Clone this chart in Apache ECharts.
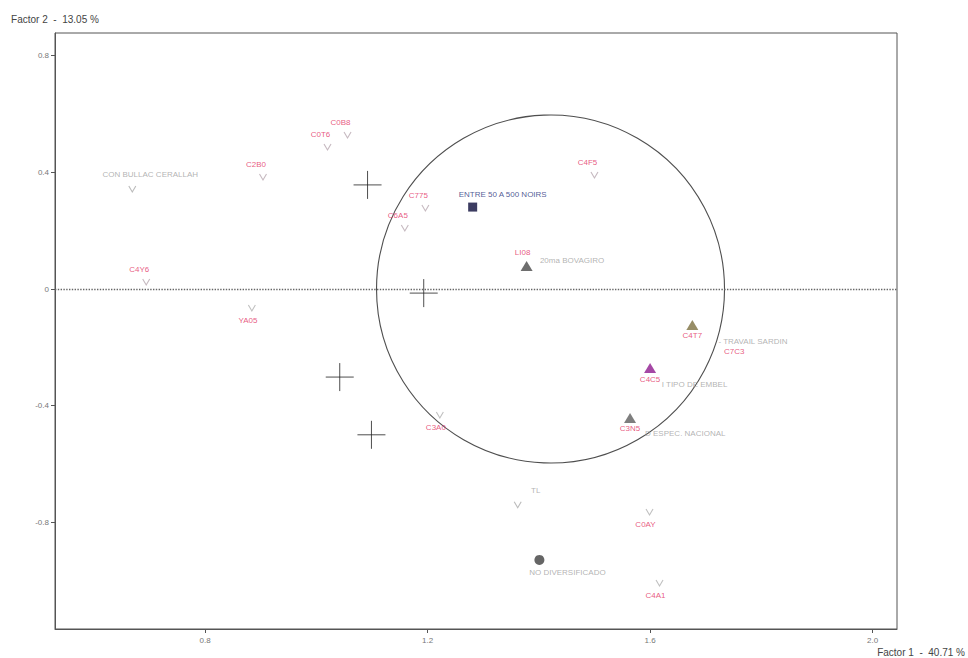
<!DOCTYPE html>
<html>
<head>
<meta charset="utf-8">
<script src="https://cdn.jsdelivr.net/npm/echarts@6/dist/echarts.min.js"></script>
<style>html,body{margin:0;padding:0;background:#fff;}#c{width:968px;height:658px;}</style>
</head>
<body>
<div id="c"></div>
<script>
// ---- data (factor coordinates) ----
const xTicks = [0.8, 1.2, 1.6, 2.0];
const yTicks = [-0.8, -0.4, 0, 0.4, 0.8];
const xTitle = 'Factor 1  -  40.71 %';
const yTitle = 'Factor 2  -  13.05 %';

// code points, label above
const codesAboveNames = ['C0B8', 'C0T6', 'C2B0', 'C775', 'C6A5', 'C4F5', 'C4Y6'];
const codesAboveX = [1.056, 1.020, 0.904, 1.196, 1.159, 1.500, 0.694];
const codesAboveY = [0.528, 0.487, 0.384, 0.278, 0.209, 0.391, 0.024];

// code points, label below
const codesBelowNames = ['YA05', 'C3A0', 'C0AY', 'C4A1'];
const codesBelowX = [0.884, 1.222, 1.599, 1.617];
const codesBelowY = [-0.065, -0.432, -0.765, -1.008];

// grey supplementary points with label above
const greyPtNames = ['CON BULLAC CERALLAH', 'TL'];
const greyPtX = [0.669, 1.362];
const greyPtY = [0.343, -0.740];

// active modalities
const squareName = 'ENTRE 50 A 500 NOIRS';
const squareX = 1.281, squareY = 0.281;

const triAboveNames = ['LI08'];
const triAboveX = [1.378];
const triAboveY = [0.079];

const triBelowNames = ['C4T7', 'C4C5', 'C3N5'];
const triBelowX = [1.676, 1.600, 1.564];
const triBelowY = [-0.123, -0.271, -0.442];

const blobName = 'NO DIVERSIFICADO';
const blobX = 1.401, blobY = -0.929;

// text labels of modalities (left anchor of text)
const textNames = ['20ma BOVAGIRO', '- TRAVAIL SARDIN', 'I TIPO DE EMBEL', 'D ESPEC. NACIONAL'];
const textX = [1.401, 1.722, 1.620, 1.590];
const textY = [0.099, -0.180, -0.329, -0.497];

const pinkTextNames = ['C7C3'];
const pinkTextX = [1.732];
const pinkTextY = [-0.216];

// centres of the large crosses
const crossX = [1.092, 1.193, 1.042, 1.099];
const crossY = [0.357, -0.014, -0.302, -0.500];

// correlation circle centre
const circleX = 1.421, circleY = 0.0;

// ---- build ----
const zip = (xs, ys, ns) => xs.map((x, i) => ns ? { name: ns[i], value: [x, ys[i]] } : [x, ys[i]]);
const PINK = '#e2305f', GREY = '#a0a0a0';
const FONT = 'Liberation Sans, Arial, sans-serif';
const vSym = 'path://M0,0L4,7L8,0';
const fmt = v => (v === 0 ? '0' : v.toFixed(1));

const chart = echarts.init(document.getElementById('c'), null, { renderer: 'svg' });
chart.setOption({
  animation: false,
  grid: { left: 55, right: 70, top: 33, bottom: 29, show: true, borderColor: '#555', borderWidth: 1, backgroundColor: 'transparent' },
  xAxis: {
    type: 'value', min: 0.530, max: 2.044,
    name: xTitle, nameLocation: 'end', nameGap: 68,
    nameTextStyle: { fontSize: 10, color: '#444', fontFamily: FONT, align: 'right', verticalAlign: 'top', padding: [18, 0, 0, 0] },
    axisLine: { onZero: false, lineStyle: { color: '#555' } },
    axisTick: { customValues: xTicks, length: 4, lineStyle: { color: '#555' } },
    axisLabel: { customValues: xTicks, formatter: fmt, fontSize: 8, color: '#777', fontFamily: FONT, margin: 7 },
    splitLine: { show: false }
  },
  yAxis: {
    type: 'value', min: -1.166, max: 0.878,
    name: yTitle, nameLocation: 'end', nameGap: 9,
    nameTextStyle: { fontSize: 10, color: '#444', fontFamily: FONT, align: 'center' },
    axisLine: { onZero: false, lineStyle: { color: '#555' } },
    axisTick: { customValues: yTicks, length: 4, lineStyle: { color: '#555' } },
    axisLabel: { customValues: yTicks, formatter: fmt, fontSize: 8, color: '#777', fontFamily: FONT, margin: 6 },
    splitLine: { show: false }
  },
  series: [
    { // correlation circle + zero line
      type: 'scatter', silent: true, z: 1,
      data: [[circleX, circleY]], symbol: 'circle', symbolSize: 348,
      itemStyle: { color: 'transparent', borderColor: '#222', borderWidth: 1.1 },
      markLine: {
        silent: true, symbol: 'none', label: { show: false },
        lineStyle: { type: 'dotted', color: '#666', width: 1.4 },
        data: [{ yAxis: 0 }]
      }
    },
    { // crosses
      type: 'scatter', silent: true, z: 2,
      data: zip(crossX, crossY), symbol: 'path://M0,14L28,14M14,0L14,28', symbolSize: 28,
      itemStyle: { color: 'none', borderColor: '#222', borderWidth: 1 }
    },
    {
      type: 'scatter', z: 3, data: zip(codesAboveX, codesAboveY, codesAboveNames),
      symbol: vSym, symbolSize: [7, 6],
      itemStyle: { color: 'none', borderColor: '#b8a8b0', borderWidth: 1 },
      label: { show: true, formatter: '{b}', position: 'top', distance: 3, offset: [-7, 0], color: PINK, fontSize: 8, fontFamily: FONT }
    },
    {
      type: 'scatter', z: 3, data: zip(codesBelowX, codesBelowY, codesBelowNames),
      symbol: vSym, symbolSize: [7, 6],
      itemStyle: { color: 'none', borderColor: '#b0b0b0', borderWidth: 1 },
      label: { show: true, formatter: '{b}', position: 'bottom', distance: 3, offset: [-4, 0], color: PINK, fontSize: 8, fontFamily: FONT }
    },
    {
      type: 'scatter', z: 3, data: zip(greyPtX, greyPtY, greyPtNames),
      symbol: vSym, symbolSize: [7, 6],
      itemStyle: { color: 'none', borderColor: '#aaa', borderWidth: 1 },
      label: { show: true, formatter: '{b}', position: 'top', distance: 5, offset: [18, 0], color: GREY, fontSize: 8, fontFamily: FONT }
    },
    {
      type: 'scatter', z: 4, data: [{ name: squareName, value: [squareX, squareY] }],
      symbol: 'rect', symbolSize: 9, itemStyle: { color: '#0b0b3a' },
      label: { show: true, formatter: '{b}', position: 'top', distance: 4, offset: [30, 0], color: '#26307a', fontSize: 8, fontFamily: FONT }
    },
    {
      type: 'scatter', z: 4, data: zip(triAboveX, triAboveY, triAboveNames),
      symbol: 'triangle', symbolSize: [12, 10], itemStyle: { color: '#4a4a4a' },
      label: { show: true, formatter: '{b}', position: 'top', distance: 4, offset: [-4, 0], color: PINK, fontSize: 8, fontFamily: FONT }
    },
    {
      type: 'scatter', z: 4, data: zip(triBelowX, triBelowY, triBelowNames),
      symbol: 'triangle', symbolSize: [12, 10],
      itemStyle: { color: function (p) { return ['#7d7040', '#8e1a8e', '#5e5e5e'][p.dataIndex]; } },
      label: { show: true, formatter: '{b}', position: 'bottom', distance: 2, offset: [0, 0], color: PINK, fontSize: 8, fontFamily: FONT }
    },
    {
      type: 'scatter', z: 4, data: [{ name: blobName, value: [blobX, blobY] }],
      symbol: 'circle', symbolSize: 10, itemStyle: { color: '#3e3e3e' },
      label: { show: true, formatter: '{b}', position: 'bottom', distance: 4, offset: [28, 0], color: GREY, fontSize: 8, fontFamily: FONT }
    },
    {
      type: 'scatter', z: 4, data: zip(textX, textY, textNames), symbol: 'circle', symbolSize: 1,
      itemStyle: { color: 'rgba(0,0,0,0)' },
      label: { show: true, formatter: '{b}', position: 'right', distance: 0, color: GREY, fontSize: 8, fontFamily: FONT }
    },
    {
      type: 'scatter', z: 4, data: zip(pinkTextX, pinkTextY, pinkTextNames), symbol: 'circle', symbolSize: 1,
      itemStyle: { color: 'rgba(0,0,0,0)' },
      label: { show: true, formatter: '{b}', position: 'right', distance: 0, color: PINK, fontSize: 8, fontFamily: FONT }
    }
  ]
});
</script>
</body>
</html>
